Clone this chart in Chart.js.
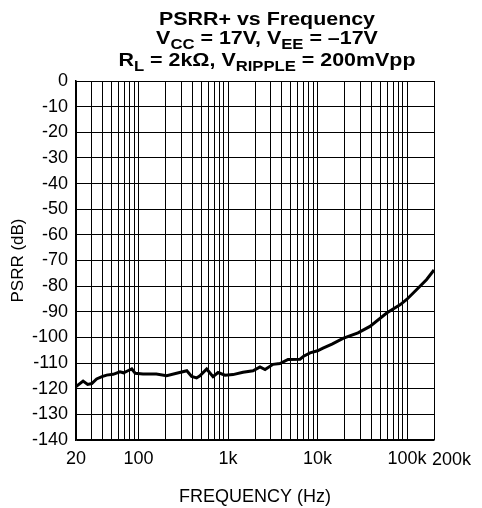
<!DOCTYPE html>
<html>
<head>
<meta charset="utf-8">
<script src="https://cdn.jsdelivr.net/npm/chart.js@4"></script>
<style>
  html, body { margin: 0; padding: 0; background: #fff; }
  canvas { display: block; }
</style>
</head>
<body>
<canvas id="chart" width="482" height="508"></canvas>
<script>
// values
const freqHz = [20, 24, 27, 30, 34, 39, 44, 52, 62, 68, 76, 84, 92, 112, 158, 206, 266, 346, 392, 445, 485, 577, 679, 773, 925, 1135, 1470, 1900, 2275, 2590, 3180, 3800, 4680, 6370, 7000, 8240, 10000, 11500, 14500, 19250, 28300, 38500, 59200, 83400, 99100, 128300, 165600, 200000];
const psrrDb = [-119.2, -117, -118.3, -118, -116.2, -115.3, -114.7, -114.4, -113.4, -113.8, -113, -112.3, -114, -114.3, -114.3, -114.9, -114, -113, -115.2, -115.8, -115, -112.3, -115.3, -113.7, -114.7, -114.5, -113.6, -113, -111.5, -112.5, -110.5, -110.2, -108.6, -108.5, -107.3, -106, -105.2, -104.2, -102.6, -100.4, -98.2, -95.7, -90.5, -87.3, -85.2, -81.3, -77.4, -73.7];

const xGridTicks = [20, 30, 40, 50, 60, 70, 80, 90, 100, 200, 300, 400, 500, 600, 700, 800, 900,
  1000, 2000, 3000, 4000, 5000, 6000, 7000, 8000, 9000, 10000, 20000, 30000, 40000, 50000, 60000,
  70000, 80000, 90000, 100000, 200000];
const xTickLabels = { 20: '20', 100: '100', 1000: '1k', 10000: '10k', 100000: '100k', 200000: '200k' };
const xEndValue = 200000; // this one sits right of the axis end, drawn by the plugin

const titleLines = [
  [{ t: 'PSRR+ vs Frequency' }],
  [{ t: 'V' }, { t: 'CC', sub: true }, { t: ' = 17V, V' }, { t: 'EE', sub: true }, { t: ' = \u201317V' }],
  [{ t: 'R' }, { t: 'L', sub: true }, { t: ' = 2k\u03A9, V' }, { t: 'RIPPLE', sub: true }, { t: ' = 200mVpp' }]
];

const FONT = "'Liberation Sans', Arial, sans-serif";

const titlePlugin = {
  id: 'titleLines',
  afterDraw(chart) {
    const ctx = chart.ctx;
    const baselines = [25, 43.5, 66];
    const sx = 1.19;
    const cx = 267;
    ctx.save();
    ctx.fillStyle = '#000';
    ctx.textBaseline = 'alphabetic';
    ctx.textAlign = 'left';
    titleLines.forEach((line, i) => {
      let w = 0;
      line.forEach(seg => {
        ctx.font = 'bold ' + (seg.sub ? 14 : 18) + 'px ' + FONT;
        w += ctx.measureText(seg.t).width;
      });
      let x = cx / sx - w / 2;
      ctx.save();
      ctx.scale(sx, 1);
      line.forEach(seg => {
        ctx.font = 'bold ' + (seg.sub ? 14 : 18) + 'px ' + FONT;
        ctx.fillText(seg.t, x, baselines[i] + (seg.sub ? 5 : 0));
        x += ctx.measureText(seg.t).width;
      });
      ctx.restore();
    });

    // last x label, left aligned at the end of the axis
    const xs = chart.scales.x;
    ctx.font = '18px ' + FONT;
    ctx.textBaseline = 'alphabetic';
    ctx.textAlign = 'left';
    ctx.fillText(xTickLabels[xEndValue], xs.getPixelForValue(xEndValue) - 2, xs.top + 24.5);
    ctx.restore();
  }
};

const ctx = document.getElementById('chart').getContext('2d');
const myChart = new Chart(ctx, {
  type: 'line',
  data: {
    datasets: [{
      data: freqHz.map((f, i) => ({ x: f, y: psrrDb[i] })),
      borderColor: '#000',
      borderWidth: 3,
      pointRadius: 0,
      tension: 0,
      fill: false
    }]
  },
  options: {
    responsive: false,
    animation: false,
    layout: { padding: { top: 81, right: 48, left: 0, bottom: 0 } },
    plugins: {
      legend: { display: false },
      tooltip: { enabled: false }
    },
    scales: {
      x: {
        type: 'logarithmic',
        min: 20,
        max: 200000,
        afterBuildTicks: scale => {
          scale.ticks = xGridTicks.map(v => ({ value: v }));
        },
        afterFit: scale => { scale.height = 68; },
        ticks: {
          autoSkip: false,
          maxRotation: 0,
          padding: 8,
          color: '#000',
          font: { family: FONT, size: 18 },
          callback: value => (value === xEndValue ? '' : (xTickLabels[value] || ''))
        },
        grid: { color: '#000', lineWidth: 1, drawTicks: false },
        border: { color: '#000', width: 1.5 },
        title: {
          display: true,
          text: 'FREQUENCY (Hz)',
          color: '#000',
          font: { family: FONT, size: 18 },
          padding: { top: 0, bottom: 0 }
        }
      },
      y: {
        type: 'linear',
        min: -140,
        max: 0,
        afterFit: scale => { scale.width = 76; },
        ticks: {
          stepSize: 10,
          padding: 8,
          color: '#000',
          font: { family: FONT, size: 18 }
        },
        grid: { color: '#000', lineWidth: 1, drawTicks: false },
        border: { color: '#000', width: 1.5 },
        title: {
          display: true,
          text: 'PSRR (dB)',
          color: '#000',
          font: { family: FONT, size: 17 },
          padding: { top: 8, bottom: 0 }
        }
      }
    }
  },
  plugins: [titlePlugin]
});
</script>
</body>
</html>
